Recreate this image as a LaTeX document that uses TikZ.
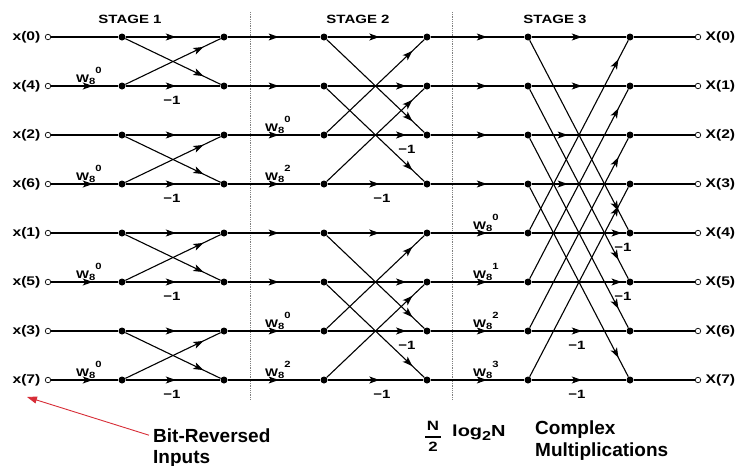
\documentclass[tikz,border=0pt]{standalone}
\usepackage{fontspec}
\setmainfont{Liberation Sans}
\newfontfamily\widesf{Liberation Sans}[FakeStretch=1.25]
\usetikzlibrary{arrows.meta,decorations.markings,positioning}

% twiddle factor W_8^k
\newcommand\twf[1]{W\raisebox{-0.5ex}{\fontsize{9}{9}\selectfont 8}\raisebox{1.45ex}{\fontsize{9}{9}\selectfont #1}}

\tikzset{
  port/.style={circle,draw,fill=white,inner sep=0pt,minimum size=5.5pt,line width=0.7pt},
  bullet/.style={circle,fill,inner sep=0pt,minimum size=7pt},
  wire/.style={line width=1.1pt},
  arr/.style={postaction={decorate,decoration={markings,
      mark=at position #1 with {\arrow{Stealth[length=10pt,width=7pt,inset=2.5pt]}}}}},
  lbl/.style={font=\widesf\bfseries\fontsize{12.5}{15}\selectfont},
  stagelbl/.style={font=\widesf\bfseries\fontsize{12}{14}\selectfont},
  wlbl/.style={anchor=base west,inner sep=0pt,font=\widesf\bfseries\fontsize{11}{13}\selectfont},
  neg/.style={font=\widesf\bfseries\fontsize{12}{14}\selectfont},
  sep/.style={gray,densely dotted,line width=0.8pt},
  note/.style={anchor=base west,inner sep=0pt,font=\bfseries\fontsize{19}{22}\selectfont},
  redarr/.style={draw={rgb,255:red,215;green,45;blue,55},line width=0.9pt,
      -{Triangle[length=10pt,width=7pt]}}
}

\begin{document}
\begin{tikzpicture}[x=1pt,y=-1pt]
\useasboundingbox (0,0) rectangle (740,466);

% stage titles and separators
\node[stagelbl] (st1) at (130,19) {STAGE 1};
\node[stagelbl] (st2) at (358,19) {STAGE 2};
\node[stagelbl] (st3) at (555,19) {STAGE 3};
\draw[sep] (250,12) -- (250,400);
\draw[sep] (452,12) -- (452,400);

% ports and butterfly points
\foreach \k/\n/\m in {0/0/0,1/4/1,2/2/2,3/6/3,4/1/4,5/5/5,6/3/6,7/7/7} {
  \pgfmathsetmacro\yy{37+49*\k}
  \node[port] (in\k) at (48,\yy) {};
  \node[lbl,left=1pt of in\k] (xin\k) {x(\n)};
  \node[bullet] (a\k) at (122,\yy) {};
  \node[bullet] (b\k) at (224,\yy) {};
  \node[bullet] (c\k) at (324,\yy) {};
  \node[bullet] (d\k) at (427,\yy) {};
  \node[bullet] (e\k) at (528,\yy) {};
  \node[bullet] (f\k) at (630,\yy) {};
  \node[port] (out\k) at (698,\yy) {};
  \node[lbl,right=1pt of out\k] (xout\k) {X(\m)};
}

% horizontal wires
\foreach \k in {0,2,4,6} \draw[wire] (in\k) -- (a\k);
\foreach \k in {1,3,5,7} \draw[wire,arr=0.62] (in\k) -- (a\k);
\foreach \k in {0,...,7} {
  \draw[wire,arr=0.53] (a\k) -- (b\k);
  \draw[wire,arr=0.55] (b\k) -- (c\k);
  \draw[wire,arr=0.6] (d\k) -- (e\k);
  \draw[wire] (f\k) -- (out\k);
}
\foreach \k/\p in {0/0.54,1/0.82,2/0.82,3/0.54,4/0.54,5/0.82,6/0.82,7/0.54}
  \draw[wire,arr=\p] (c\k) -- (d\k);
\foreach \k/\p in {0/0.53,1/0.53,2/0.38,3/0.38,4/0.95,5/0.95,6/0.53,7/0.53}
  \draw[wire,arr=\p] (e\k) -- (f\k);

% crossings
\foreach \i/\j in {0/1,2/3,4/5,6/7} {
  \draw[wire,arr=0.82] (a\i) -- (b\j);
  \draw[wire,arr=0.82] (a\j) -- (b\i);
}
\foreach \i/\j in {0/2,1/3,4/6,5/7} {
  \draw[wire,arr=0.88] (c\i) -- (d\j);
  \draw[wire,arr=0.88] (c\j) -- (d\i);
}
\foreach \i/\j in {0/4,1/5,2/6,3/7} {
  \draw[wire,arr=0.9] (e\i) -- (f\j);
  \draw[wire,arr=0.9] (e\j) -- (f\i);
}

% twiddle factors
\foreach \k in {1,3,5,7} \node[wlbl] (wa\k) at (76,{33+49*\k}) {\twf{0}};
\foreach \k/\p in {2/0,3/2,6/0,7/2} \node[wlbl] (wc\k) at (265,{33+49*\k}) {\twf{\p}};
\foreach \k/\p in {4/0,5/1,6/2,7/3} \node[wlbl] (we\k) at (473,{33+49*\k}) {\twf{\p}};

% -1 factors
\foreach \k in {1,3,5,7} \node[neg] (na\k) at (172,{51+49*\k}) {−1};
\foreach \k/\x in {2/407,3/382,6/407,7/382} \node[neg] (nc\k) at (\x,{51+49*\k}) {−1};
\foreach \k/\x in {4/623,5/623,6/577,7/577} \node[neg] (ne\k) at (\x,{51+49*\k}) {−1};

% notes
\node[note] (br1) at (153,442) {Bit-Reversed};
\node[note] (br2) at (153,463) {Inputs};
\coordinate (brtip) at (27,397);
\draw[redarr] ([xshift=-4pt]br1.west) -- (brtip);

\node (frac) [inner sep=0pt,font=\widesf\bfseries\fontsize{13.5}{15}\selectfont] at (433,437) {
\setlength{\tabcolsep}{1.5pt}\setlength{\arrayrulewidth}{1.3pt}%
\renewcommand{\arraystretch}{1.35}%
\begin{tabular}{c}
N \\
  \hline
2 \\
\end{tabular}
};
\node[anchor=base west,inner sep=0pt,font=\widesf\bfseries\fontsize{16}{18}\selectfont] (lg) at (452,436)
  {log\raisebox{-0.55ex}{\fontsize{13}{13}\selectfont 2}N};
\node[note] (cm1) at (535,434) {Complex};
\node[note] (cm2) at (535,456) {Multiplications};
\end{tikzpicture}
\end{document}
